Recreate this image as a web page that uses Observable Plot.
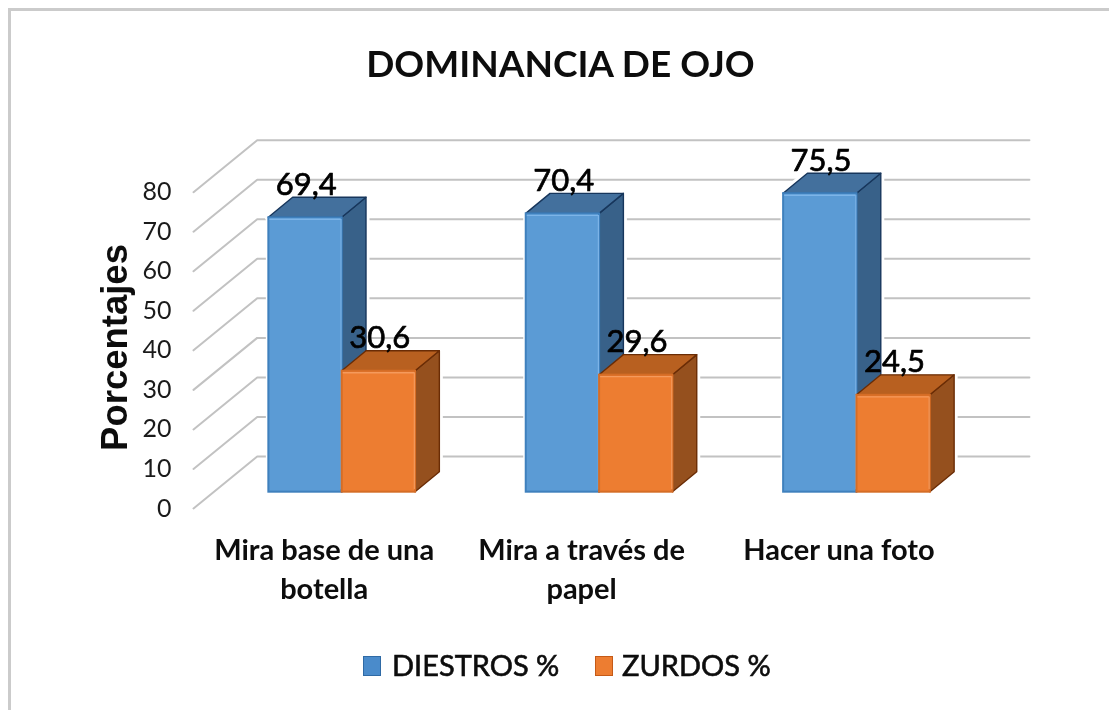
<!DOCTYPE html>
<html lang="es">
<head>
<meta charset="utf-8">
<script src="https://cdn.jsdelivr.net/npm/d3@7"></script>
<script src="https://cdn.jsdelivr.net/npm/@observablehq/plot@0.6"></script>
<style>
  html, body { margin: 0; padding: 0; background: #fff; }
  #page { position: relative; width: 1109px; height: 710px; overflow: hidden; font-family: Lato, sans-serif; }
  #page::before { content: ""; position: absolute; left: 8px; top: 8px; right: 0; bottom: 0; border-left: 3px solid #cbcbcb; border-top: 3px solid #cbcbcb; }
  #title { position: absolute; left: 0; top: 38px; width: 1121px; text-align: center; font-size: 37px; font-weight: 700; color: #0d0d0d; line-height: 50px; filter: blur(.5px); }
  #chart { position: absolute; left: 0; top: 100px; filter: blur(.5px); }
  #legend { position: absolute; left: 0; top: 645px; width: 1109px; height: 40px; font-size: 29px; font-weight: 400; color: #0d0d0d; -webkit-text-stroke: .6px #0d0d0d; filter: blur(.5px); }
  #legend span { position: absolute; top: 0; line-height: 40px; white-space: nowrap; }
  #legend i { position: absolute; top: 11px; width: 16px; height: 18px; border: 1px solid; }
</style>
</head>
<body>
<div id="page">
  <div id="title"></div>
  <div id="chart"></div>
  <div id="legend"></div>
</div>
<script>
const chartTitle = "DOMINANCIA DE OJO";
const yAxisTitle = "Porcentajes";
const categories = ["Mira base de una\nbotella", "Mira a través de\npapel", "Hacer una foto"];
const seriesNames = ["DIESTROS %", "ZURDOS %"];
const diestros = [69.4, 70.4, 75.5];
const zurdos = [30.6, 29.6, 24.5];
const yTicks = [0, 10, 20, 30, 40, 50, 60, 70, 80];

// Oblique projection, in scale units
const barW = 0.285, depthX = 0.0944, depthY = 5.06;
const wallLeft = -0.5777, wallBack = -0.3302, wallRight = 2.67;
const floorFront = -4.12, floorBack = 9.03;

const frameLabel = v => String(v).replace(".", ",");
const makeBars = (values, side) => values.map((v, i) => ({
  i, v, x1: side === 0 ? i - barW : i, x2: side === 0 ? i : i + barW
}));
const blueBars = makeBars(diestros, 0);
const orangeBars = makeBars(zurdos, 1);

const sidePts = bars => bars.flatMap(b => [
  {z: b.i, x: b.x2, y1: 0, y2: b.v},
  {z: b.i, x: b.x2 + depthX, y1: depthY, y2: b.v + depthY}
]);
const topPts = bars => bars.flatMap(b => [
  {z: b.i, y: b.v, x1: b.x1, x2: b.x2},
  {z: b.i, y: b.v + depthY, x1: b.x1 + depthX, x2: b.x2 + depthX}
]);
const gridPts = yTicks.flatMap(t => [
  {t, x: wallLeft, y: t + floorFront},
  {t, x: wallBack, y: t + floorBack},
  {t, x: wallRight, y: t + floorBack}
]);

const barMarks = (bars, c) => [
  Plot.areaY(sidePts(bars), {x: "x", y1: "y1", y2: "y2", z: "z", fill: c.side, stroke: c.edge, strokeWidth: 1.4}),
  Plot.areaX(topPts(bars), {y: "y", x1: "x1", x2: "x2", z: "z", fill: c.top, stroke: c.edge, strokeWidth: 1.4}),
  Plot.rect(bars, {x1: "x1", x2: "x2", y1: 0, y2: "v", fill: c.front, stroke: c.rim, strokeWidth: 2}),
  Plot.ruleY(bars, {x1: d => d.x1 + 0.004, x2: d => d.x2 - 0.004, y: "v", dy: 1.5, stroke: c.light, strokeWidth: 1.4}),
  Plot.ruleX(bars, {x: "x2", y1: 0.6, y2: d => d.v - 0.4, dx: -1.2, stroke: c.light, strokeWidth: 1.2})
];
const halo = bars => [
  Plot.areaY(sidePts(bars), {x: "x", y1: "y1", y2: "y2", z: "z", fill: "white", stroke: "white", strokeWidth: 7}),
  Plot.areaX(topPts(bars), {y: "y", x1: "x1", x2: "x2", z: "z", fill: "white", stroke: "white", strokeWidth: 7}),
  Plot.rect(bars, {x1: "x1", x2: "x2", y1: 0, y2: "v", fill: "white", stroke: "white", strokeWidth: 5})
];
const labelMark = bars => Plot.text(bars, {
  x: d => (d.x1 + d.x2) / 2 + 0.003,
  y: d => d.v + depthY,
  text: d => frameLabel(d.v),
  lineAnchor: "bottom",
  dy: -3,
  fontSize: 31,
  fill: "#000",
  stroke: "#000",
  strokeWidth: 0.7
});

const blue = {front: "#5b9bd5", side: "#386189", top: "#43709d", edge: "#17365c", rim: "#3f80bd", light: "#7db4e8"};
const orange = {front: "#ed7d31", side: "#95501e", top: "#b86020", edge: "#6a2c05", rim: "#d56d26", light: "#f59a5c"};

const chart = Plot.plot({
  width: 1109,
  height: 540,
  marginLeft: 178,
  marginRight: 69,
  marginTop: 30,
  marginBottom: 120,
  style: {fontFamily: "Lato, sans-serif", background: "transparent", overflow: "visible"},
  x: {type: "linear", domain: [-0.636, 2.713]},
  y: {type: "linear", domain: [-7.157, 91.48]},
  marks: [
    Plot.line(gridPts, {x: "x", y: "y", z: "t", stroke: "#c2c2c2", strokeWidth: 2}),
    ...halo(blueBars),
    ...halo(orangeBars),
    ...barMarks(blueBars, blue),
    ...barMarks(orangeBars, orange),
    labelMark(blueBars),
    labelMark(orangeBars),
    Plot.axisY(yTicks, {
      anchor: "left", tickSize: 0, tickPadding: 7, dy: 16.3, label: null,
      fontSize: 25, fill: "#1a1a1a"
    }),
    Plot.axisX([0, 1, 2], {
      anchor: "bottom", tickSize: 0, tickPadding: 12, dx: -18, label: null,
      tickFormat: i => categories[i],
      lineHeight: 1.345, fontSize: 29, fontWeight: 700, fill: "#0d0d0d"
    }),
    Plot.text([yAxisTitle], {
      text: d => d, frameAnchor: "left", textAnchor: "middle", rotate: -90, dx: -63, dy: 22,
      fontFamily: "'Liberation Sans', Arial, sans-serif", fontSize: 36.5, fontWeight: 700, fill: "#0d0d0d"
    })
  ]
});
document.getElementById("chart").appendChild(chart);
document.getElementById("title").textContent = chartTitle;

const legend = document.getElementById("legend");
const swatches = [
  {x: 363, tx: 392, fill: "#4a8bcb", edge: "#2f6aa5"},
  {x: 595, tx: 622, fill: "#ed7d31", edge: "#c55a17"}
];
seriesNames.forEach((name, i) => {
  const sw = document.createElement("i");
  sw.style.left = swatches[i].x + "px";
  sw.style.background = swatches[i].fill;
  sw.style.borderColor = swatches[i].edge;
  legend.appendChild(sw);
  const lab = document.createElement("span");
  lab.style.left = swatches[i].tx + "px";
  lab.textContent = name;
  legend.appendChild(lab);
});
</script>
</body>
</html>
